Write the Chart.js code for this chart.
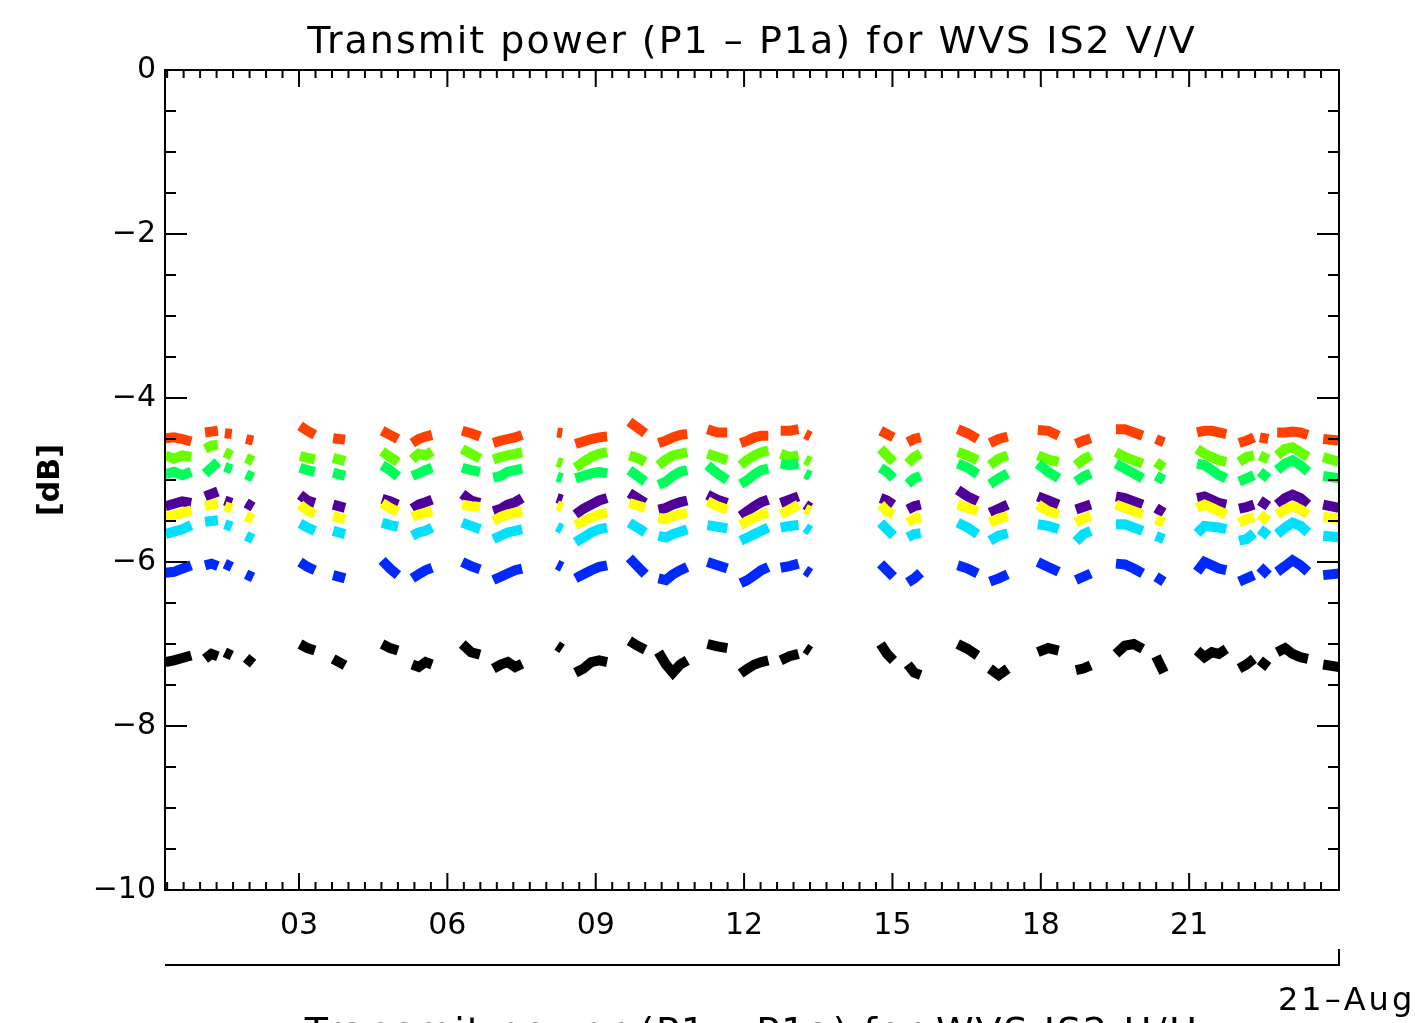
<!DOCTYPE html>
<html>
<head>
<meta charset="utf-8">
<script src="https://cdn.jsdelivr.net/npm/chart.js@4"></script>
<style>
html,body{margin:0;padding:0;background:#fff;}
canvas{display:block;}
</style>
</head>
<body>
<canvas id="c" width="1415" height="1023"></canvas>
<script>
// ---------- DATA ----------
const titleText = 'Transmit power (P1 \u2013 P1a) for WVS IS2 V/V';
const nextTitleText = 'Transmit power (P1 \u2013 P1a) for WVS IS2 H/H';
const yAxisTitle = '[dB]';
const dateLabel = '21\u2013Aug';
const xTickValues = [3, 6, 9, 12, 15, 18, 21];
const xTickLabels = ['03', '06', '09', '12', '15', '18', '21'];
const yTickValues = [-10, -8, -6, -4, -2, 0];
const yTickLabels = ['\u221210', '\u22128', '\u22126', '\u22124', '\u22122', '0'];
const xMin = 0.29, xMax = 24.03;
const yMin = -10, yMax = 0;

// time (day of month) of the samples, grouped by data pass
const segTimes = [
 [0.30,0.47,0.64,0.82],[1.10,1.23,1.36],[1.50,1.64],[1.93,2.07],
 [3.02,3.17,3.32],[3.69,3.93],[4.68,4.84,5.00],[5.29,5.42,5.56,5.69],
 [6.30,6.48,6.66],[6.93,7.08,7.22,7.37,7.51],[8.22,8.32],[8.59,8.75,8.91,9.07,9.23],
 [9.68,9.84,10.00],[10.27,10.42,10.56,10.71,10.85],[11.26,11.46,11.66],[11.93,12.07,12.21,12.35,12.49],
 [12.74,12.92,13.10],[13.24,13.34],[14.76,14.89,15.02],[15.31,15.44,15.57],
 [16.32,16.52,16.72],[16.97,17.15,17.33],[17.94,18.15,18.36],[18.71,18.86,19.01],
 [19.52,19.70,19.88,20.06],[20.33,20.49],[21.16,21.31,21.46,21.60,21.75],[22.01,22.16,22.31],
 [22.43,22.60],[22.78,22.94,23.09,23.25,23.40],[23.71,24.03]
];

const redVals = [
 [-4.49,-4.48,-4.50,-4.53],[-4.42,-4.41,-4.40],[-4.43,-4.44],[-4.50,-4.52],
 [-4.34,-4.40,-4.45],[-4.49,-4.51],[-4.40,-4.45,-4.50],[-4.55,-4.50,-4.47,-4.45],
 [-4.40,-4.43,-4.47],[-4.55,-4.52,-4.50,-4.48,-4.45],[-4.42,-4.43],[-4.56,-4.53,-4.50,-4.48,-4.47],
 [-4.29,-4.36,-4.43],[-4.55,-4.52,-4.48,-4.45,-4.44],[-4.38,-4.42,-4.42],[-4.55,-4.52,-4.48,-4.46,-4.46],
 [-4.40,-4.40,-4.38],[-4.44,-4.47],[-4.40,-4.44,-4.48],[-4.54,-4.50,-4.48],
 [-4.38,-4.43,-4.50],[-4.55,-4.50,-4.47],[-4.39,-4.40,-4.46],[-4.56,-4.52,-4.49],
 [-4.38,-4.38,-4.42,-4.46],[-4.50,-4.54],[-4.42,-4.40,-4.40,-4.42,-4.44],[-4.55,-4.52,-4.48],
 [-4.48,-4.50],[-4.42,-4.42,-4.41,-4.42,-4.45],[-4.50,-4.52]
];
const limeVals = [
 [-4.70,-4.74,-4.70,-4.72],[-4.62,-4.58,-4.57],[-4.66,-4.70],[-4.73,-4.77],
 [-4.71,-4.73,-4.75],[-4.73,-4.77],[-4.65,-4.72,-4.78],[-4.75,-4.68,-4.70,-4.65],
 [-4.62,-4.68,-4.74],[-4.75,-4.72,-4.70,-4.68,-4.66],[-4.78,-4.80],[-4.85,-4.78,-4.72,-4.68,-4.66],
 [-4.70,-4.73,-4.78],[-4.82,-4.75,-4.70,-4.68,-4.66],[-4.68,-4.72,-4.76],[-4.82,-4.75,-4.70,-4.66,-4.64],
 [-4.68,-4.72,-4.70],[-4.75,-4.78],[-4.62,-4.70,-4.78],[-4.80,-4.72,-4.68],
 [-4.66,-4.70,-4.76],[-4.82,-4.74,-4.70],[-4.70,-4.75,-4.78],[-4.82,-4.75,-4.70],
 [-4.66,-4.72,-4.76,-4.80],[-4.78,-4.85],[-4.62,-4.68,-4.72,-4.76,-4.78],[-4.78,-4.72,-4.70],
 [-4.70,-4.75],[-4.70,-4.62,-4.60,-4.66,-4.72],[-4.72,-4.78]
];
const springVals = [
 [-4.93,-4.90,-4.94,-4.90],[-4.92,-4.85,-4.78],[-4.84,-4.87],[-4.93,-4.97],
 [-4.85,-4.88,-4.90],[-4.91,-4.95],[-4.82,-4.88,-4.96],[-4.95,-4.92,-4.88,-4.85],
 [-4.85,-4.88,-4.90],[-4.97,-4.95,-4.90,-4.88,-4.86],[-4.96,-4.98],[-4.98,-4.95,-4.92,-4.90,-4.92],
 [-4.88,-4.95,-5.02],[-5.06,-5.02,-4.95,-4.90,-4.88],[-4.82,-4.92,-5.00],[-5.05,-5.00,-4.93,-4.88,-4.86],
 [-4.80,-4.82,-4.80],[-4.92,-4.95],[-4.85,-4.90,-4.98],[-5.05,-4.98,-4.95],
 [-4.80,-4.85,-4.93],[-5.05,-4.98,-4.92],[-4.80,-4.90,-4.98],[-5.02,-4.96,-4.92],
 [-4.80,-4.86,-4.92,-4.98],[-4.95,-5.00],[-4.80,-4.82,-4.88,-4.94,-4.98],[-5.02,-4.98,-4.94],
 [-4.90,-4.98],[-4.88,-4.80,-4.76,-4.82,-4.90],[-4.95,-4.98]
];
const purpleVals = [
 [-5.32,-5.29,-5.26,-5.28],[-5.20,-5.17,-5.14],[-5.25,-5.28],[-5.28,-5.33],
 [-5.18,-5.25,-5.28],[-5.30,-5.34],[-5.23,-5.26,-5.30],[-5.35,-5.30,-5.27,-5.24],
 [-5.17,-5.25,-5.28],[-5.38,-5.35,-5.30,-5.27,-5.22],[-5.22,-5.24],[-5.42,-5.35,-5.30,-5.25,-5.22],
 [-5.16,-5.22,-5.28],[-5.36,-5.34,-5.30,-5.27,-5.25],[-5.18,-5.24,-5.28],[-5.44,-5.38,-5.32,-5.27,-5.24],
 [-5.28,-5.24,-5.20],[-5.30,-5.34],[-5.22,-5.25,-5.30],[-5.36,-5.32,-5.30],
 [-5.12,-5.20,-5.26],[-5.40,-5.35,-5.30],[-5.20,-5.25,-5.30],[-5.36,-5.33,-5.30],
 [-5.20,-5.22,-5.26,-5.30],[-5.34,-5.40],[-5.22,-5.20,-5.24,-5.28,-5.30],[-5.35,-5.33,-5.30],
 [-5.25,-5.32],[-5.30,-5.22,-5.18,-5.22,-5.30],[-5.30,-5.34]
];
const yellowVals = [
 [-5.45,-5.43,-5.40,-5.37],[-5.32,-5.30,-5.28],[-5.32,-5.35],[-5.44,-5.48],
 [-5.30,-5.37,-5.42],[-5.44,-5.48],[-5.28,-5.34,-5.39],[-5.45,-5.42,-5.40,-5.38],
 [-5.30,-5.32,-5.33],[-5.50,-5.45,-5.42,-5.40,-5.38],[-5.31,-5.33],[-5.55,-5.50,-5.46,-5.42,-5.40],
 [-5.28,-5.31,-5.34],[-5.46,-5.48,-5.44,-5.42,-5.40],[-5.26,-5.32,-5.36],[-5.55,-5.50,-5.46,-5.42,-5.40],
 [-5.42,-5.36,-5.30],[-5.35,-5.38],[-5.30,-5.38,-5.42],[-5.52,-5.47,-5.45],
 [-5.30,-5.34,-5.38],[-5.52,-5.47,-5.44],[-5.30,-5.38,-5.42],[-5.52,-5.47,-5.44],
 [-5.30,-5.34,-5.38,-5.42],[-5.48,-5.52],[-5.34,-5.30,-5.34,-5.38,-5.42],[-5.52,-5.48,-5.45],
 [-5.42,-5.50],[-5.42,-5.36,-5.32,-5.36,-5.42],[-5.45,-5.47]
];
const cyanVals = [
 [-5.66,-5.63,-5.60,-5.55],[-5.51,-5.50,-5.49],[-5.54,-5.57],[-5.68,-5.72],
 [-5.53,-5.58,-5.62],[-5.62,-5.66],[-5.52,-5.55,-5.57],[-5.68,-5.64,-5.62,-5.58],
 [-5.52,-5.56,-5.60],[-5.72,-5.68,-5.64,-5.62,-5.60],[-5.57,-5.60],[-5.76,-5.70,-5.64,-5.60,-5.58],
 [-5.52,-5.58,-5.64],[-5.68,-5.70,-5.66,-5.63,-5.60],[-5.55,-5.57,-5.59],[-5.74,-5.70,-5.66,-5.62,-5.58],
 [-5.58,-5.56,-5.55],[-5.58,-5.62],[-5.52,-5.60,-5.68],[-5.70,-5.66,-5.65],
 [-5.52,-5.58,-5.66],[-5.74,-5.68,-5.65],[-5.54,-5.56,-5.60],[-5.75,-5.66,-5.62],
 [-5.54,-5.54,-5.58,-5.62],[-5.68,-5.72],[-5.65,-5.56,-5.57,-5.58,-5.60],[-5.74,-5.72,-5.65],
 [-5.60,-5.68],[-5.66,-5.58,-5.52,-5.56,-5.64],[-5.68,-5.70]
];
const blueVals = [
 [-6.13,-6.12,-6.08,-6.04],[-6.04,-6.02,-6.05],[-6.02,-6.06],[-6.15,-6.19],
 [-6.00,-6.06,-6.10],[-6.16,-6.20],[-5.98,-6.08,-6.16],[-6.20,-6.15,-6.10,-6.07],
 [-6.00,-6.05,-6.09],[-6.22,-6.18,-6.14,-6.10,-6.08],[-6.03,-6.06],[-6.20,-6.15,-6.10,-6.06,-6.04],
 [-5.95,-6.05,-6.15],[-6.20,-6.22,-6.15,-6.10,-6.06],[-6.00,-6.04,-6.08],[-6.26,-6.22,-6.16,-6.10,-6.06],
 [-6.07,-6.05,-6.02],[-6.10,-6.14],[-6.02,-6.10,-6.18],[-6.25,-6.20,-6.13],
 [-6.04,-6.08,-6.14],[-6.24,-6.20,-6.15],[-6.00,-6.06,-6.12],[-6.22,-6.18,-6.14],
 [-6.02,-6.03,-6.08,-6.14],[-6.18,-6.24],[-6.12,-6.00,-6.04,-6.08,-6.10],[-6.24,-6.20,-6.16],
 [-6.06,-6.16],[-6.12,-6.05,-5.98,-6.04,-6.12],[-6.16,-6.14]
];
const blackVals = [
 [-7.22,-7.20,-7.17,-7.14],[-7.18,-7.12,-7.15],[-7.10,-7.14],[-7.17,-7.24],
 [-7.00,-7.05,-7.08],[-7.18,-7.26],[-7.00,-7.05,-7.08],[-7.25,-7.28,-7.22,-7.25],
 [-7.00,-7.10,-7.13],[-7.30,-7.25,-7.22,-7.28,-7.24],[-7.02,-7.06],[-7.35,-7.30,-7.22,-7.20,-7.22],
 [-6.96,-7.02,-7.07],[-7.10,-7.25,-7.35,-7.25,-7.20],[-7.00,-7.03,-7.05],[-7.36,-7.30,-7.25,-7.22,-7.20],
 [-7.20,-7.15,-7.12],[-7.05,-7.09],[-7.00,-7.12,-7.20],[-7.25,-7.35,-7.38],
 [-7.00,-7.06,-7.14],[-7.30,-7.38,-7.30],[-7.10,-7.05,-7.08],[-7.32,-7.30,-7.26],
 [-7.12,-7.02,-7.00,-7.06],[-7.15,-7.35],[-7.08,-7.16,-7.10,-7.12,-7.06],[-7.30,-7.25,-7.18],
 [-7.20,-7.28],[-7.10,-7.05,-7.12,-7.16,-7.18],[-7.25,-7.28]
];

const seriesList = [
 {name:'black',  vals:blackVals,  color:'#000000'},
 {name:'blue',   vals:blueVals,   color:'#0028ff'},
 {name:'cyan',   vals:cyanVals,   color:'#00e0ff'},
 {name:'yellow', vals:yellowVals, color:'#ffff00'},
 {name:'purple', vals:purpleVals, color:'#500098'},
 {name:'spring', vals:springVals, color:'#00ff5a'},
 {name:'lime',   vals:limeVals,   color:'#66ff00'},
 {name:'red',    vals:redVals,    color:'#ff4000'}
];

// ---------- BUILD ----------
function buildData(vals){
  const out = [];
  segTimes.forEach((seg, i) => {
    seg.forEach((t, j) => out.push({x: t, y: vals[i][j]}));
    out.push({x: seg[seg.length - 1], y: null});
  });
  return out;
}

const FONT = "'DejaVu Sans', 'Liberation Sans', sans-serif";

const frame = {
  id: 'frame',
  afterDraw(chart){
    const ctx = chart.ctx, a = chart.chartArea;
    const xs = chart.scales.x, ys = chart.scales.y;
    const cx = (a.left + a.right) / 2;
    ctx.save();
    ctx.strokeStyle = '#000';
    ctx.lineWidth = 2;
    ctx.strokeRect(a.left, a.top, a.right - a.left, a.bottom - a.top);
    ctx.beginPath();
    // x ticks (inward, top and bottom)
    for (let k = Math.ceil(xMin * 3); k <= Math.floor(xMax * 3); k++) {
      const px = xs.getPixelForValue(k / 3);
      if (px < a.left + 2 || px > a.right - 2) continue;
      const len = (k % 9 === 0) ? 17 : 8;
      ctx.moveTo(px, a.bottom); ctx.lineTo(px, a.bottom - len);
      ctx.moveTo(px, a.top); ctx.lineTo(px, a.top + len);
    }
    // y ticks (inward, left and right)
    for (let k = yMin * 2; k <= yMax * 2; k++) {
      const py = ys.getPixelForValue(k / 2);
      if (py < a.top + 2 || py > a.bottom - 2) continue;
      const len = (k % 4 === 0) ? 22 : 11;
      ctx.moveTo(a.left, py); ctx.lineTo(a.left + len, py);
      ctx.moveTo(a.right, py); ctx.lineTo(a.right - len, py);
    }
    ctx.stroke();
    // secondary date axis
    ctx.beginPath();
    ctx.moveTo(a.left, 965); ctx.lineTo(a.right, 965);
    ctx.moveTo(a.right, 966); ctx.lineTo(a.right, 949);
    ctx.stroke();
    ctx.fillStyle = '#000';
    ctx.textBaseline = 'alphabetic';
    // title
    ctx.font = "38px " + FONT;
    ctx.letterSpacing = '2px';
    ctx.textAlign = 'center';
    ctx.fillText(titleText, cx, 53);
    // next panel title (cut off by page edge)
    ctx.fillText(nextTitleText, cx, 1044);
    // date label
    ctx.font = "32px " + FONT;
    ctx.letterSpacing = '3px';
    ctx.textAlign = 'left';
    ctx.fillText(dateLabel, 1278, 1010);
    ctx.restore();
  }
};

new Chart(document.getElementById('c'), {
  type: 'line',
  data: {
    datasets: seriesList.map(s => ({
      label: s.name,
      data: buildData(s.vals),
      borderColor: s.color,
      backgroundColor: s.color,
      borderWidth: 10,
      pointRadius: 0,
      tension: 0,
      spanGaps: false,
      borderCapStyle: 'butt',
      borderJoinStyle: 'miter'
    }))
  },
  options: {
    responsive: false,
    animation: false,
    devicePixelRatio: 1,
    layout: {padding: {left: 33, right: 76, top: 70, bottom: 0}},
    plugins: {
      legend: {display: false},
      tooltip: {enabled: false},
      title: {display: false}
    },
    scales: {
      x: {
        type: 'linear',
        min: xMin, max: xMax,
        grid: {display: false, drawTicks: false},
        border: {display: false},
        afterBuildTicks: s => { s.ticks = xTickValues.map(v => ({value: v})); },
        afterFit: s => { s.height = 133; },
        ticks: {
          color: '#000',
          padding: 18,
          maxRotation: 0,
          autoSkip: false,
          font: {family: FONT, size: 30},
          callback: (v) => xTickLabels[xTickValues.indexOf(v)]
        }
      },
      y: {
        type: 'linear',
        min: yMin, max: yMax,
        grid: {display: false, drawTicks: false},
        border: {display: false},
        afterBuildTicks: s => { s.ticks = yTickValues.map(v => ({value: v})); },
        afterFit: s => { s.width = 132; },
        title: {
          display: true,
          text: yAxisTitle,
          color: '#000',
          font: {family: FONT, size: 30, weight: 'bold'},
          padding: {top: 0, bottom: 0}
        },
        ticks: {
          color: '#000',
          padding: 9,
          autoSkip: false,
          font: {family: FONT, size: 30},
          callback: (v) => yTickLabels[yTickValues.indexOf(v)]
        }
      }
    }
  },
  plugins: [frame]
});
</script>
</body>
</html>
